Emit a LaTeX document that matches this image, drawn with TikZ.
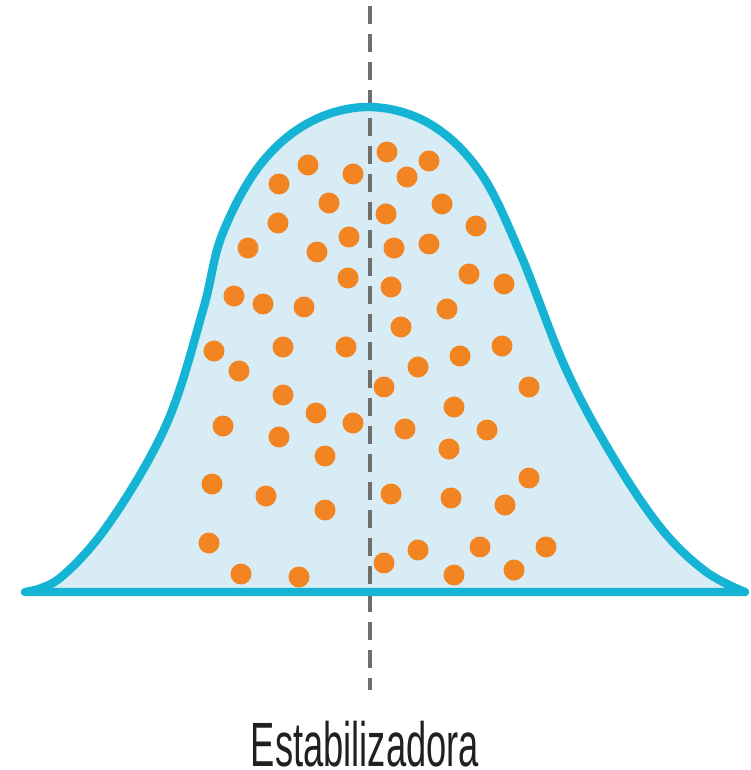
\documentclass[tikz,border=0pt]{standalone}
\usepackage{fontspec}
\setmainfont{Liberation Sans}
\usepackage{tikz}
\usetikzlibrary{positioning, calc}
\definecolor{curveblue}{HTML}{15B4D4}
\definecolor{areablue}{HTML}{D7ECF4}
\definecolor{dotorange}{HTML}{F28522}
\definecolor{axisgray}{HTML}{6E6E6E}
\definecolor{labelgray}{HTML}{231F20}

\begin{document}
\begin{tikzpicture}[
  x=0.01cm, y=-0.01cm,
  bell/.style={draw=curveblue, line width=2.4pt, line join=round},
  dot/.style={fill=dotorange},
  meanline/.style={draw=axisgray, line width=1.1pt, dash pattern=on 0.18cm off 0.1cm},
  lab/.style={font=\fontsize{17.8}{20}\selectfont, text=labelgray, inner sep=0pt, anchor=base}
]
\useasboundingbox (0,0) rectangle (750,770);
% bell curve path
\def\bellpath{plot[smooth, tension=0.6] coordinates {
  (25,592) (60,578) (110,522) (167,423) (203,310) (222,235)
  (260,165) (310,122) (370,107) (430,124) (480,172) (520,253)
  (565,367) (610,452) (660,527) (705,571) (745,592)} -- cycle}
\fill[areablue] \bellpath;
% individuals
\foreach \px/\py in {
  308/165, 353/174, 279/184, 329/203, 278/223, 349/237, 248/248, 317/252,
  348/278, 234/296, 263/304, 304/307,
  387/152, 429/161, 407/177, 442/204, 386/214, 476/226, 394/248, 429/244,
  469/274, 391/287, 504/284, 447/309, 401/327,
  214/351, 283/347, 346/347, 239/371, 283/395, 316/413, 353/423, 223/426,
  279/437, 325/456, 212/484, 266/496, 325/510, 209/543, 241/574, 299/577,
  460/356, 502/346, 418/367, 384/387, 529/387, 454/407, 405/429, 487/430,
  449/449, 529/478, 391/494, 451/498, 505/505, 418/550, 480/547, 546/547,
  384/563, 454/575, 514/570}
  \fill[dot] (\px,\py) circle[radius=0.105cm];
% mean
\coordinate (mtop) at (370,6);
\coordinate (mbot) at (370,690);
\draw[meanline] (mtop) -- (mbot);
% outline
\draw[bell] \bellpath;
\node[lab] (name) at (365,766) {\scalebox{0.58}[1]{Estabilizadora}};
\end{tikzpicture}
\end{document}
